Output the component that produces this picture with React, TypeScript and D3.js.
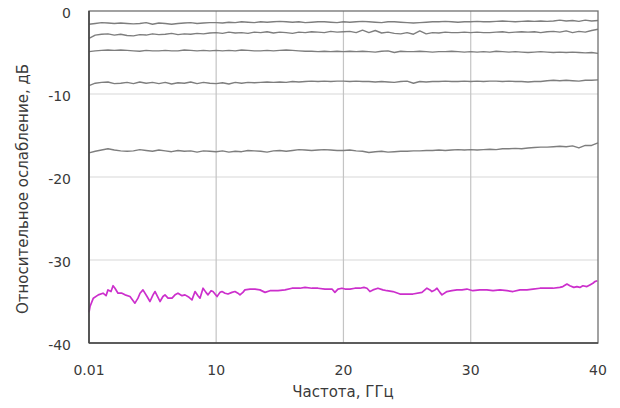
import React from "react";
import * as d3 from "d3";

const xTicks = [0.01, 10, 20, 30, 40];
const xTickLabels = ["0.01", "10", "20", "30", "40"];
const yTicks = [0, -10, -20, -30, -40];
const yTickLabels = ["0", "-10", "-20", "-30", "-40"];

const freqGrid = [
  0.01, 0.5, 1, 1.5, 2, 2.5, 3, 3.5, 4, 4.5, 5, 5.5, 6, 6.5, 7, 7.5, 8, 8.5, 9, 9.5,
  10, 10.5, 11, 11.5, 12, 12.5, 13, 13.5, 14, 14.5, 15, 15.5, 16, 16.5, 17, 17.5, 18, 18.5, 19, 19.5,
  20, 20.5, 21, 21.5, 22, 22.5, 23, 23.5, 24, 24.5, 25, 25.5, 26, 26.5, 27, 27.5, 28, 28.5, 29, 29.5,
  30, 30.5, 31, 31.5, 32, 32.5, 33, 33.5, 34, 34.5, 35, 35.5, 36, 36.5, 37, 37.5, 38, 38.5, 39, 39.5,
  40,
];

const att1 = [
  -1.6, -1.5, -1.4, -1.45, -1.5, -1.45, -1.5, -1.55, -1.5, -1.4, -1.6, -1.45, -1.5, -1.6, -1.5, -1.45, -1.4, -1.5, -1.45, -1.4,
  -1.4, -1.45, -1.35, -1.4, -1.3, -1.35, -1.4, -1.3, -1.35, -1.3, -1.25, -1.3, -1.35, -1.3, -1.4, -1.35, -1.3, -1.3, -1.35, -1.4,
  -1.3, -1.35, -1.3, -1.25, -1.3, -1.35, -1.4, -1.3, -1.3, -1.35, -1.4, -1.45, -1.4, -1.35, -1.3, -1.3, -1.25, -1.3, -1.35, -1.3,
  -1.3, -1.25, -1.3, -1.3, -1.25, -1.2, -1.25, -1.3, -1.25, -1.2, -1.25, -1.2, -1.25, -1.2, -1.1, -1.2, -1.15, -1.25, -1.1, -1.2,
  -1.15,
];

const att2 = [
  -3.3, -2.9, -2.8, -2.75, -2.9, -2.8, -2.95, -3.0, -2.85, -2.9, -2.75, -2.85, -2.8, -2.7, -2.85, -2.75, -2.8, -2.7, -2.75, -2.65,
  -2.6, -2.7, -2.55, -2.65, -2.6, -2.7, -2.55, -2.6, -2.5, -2.65, -2.55, -2.6, -2.7, -2.55, -2.6, -2.5, -2.55, -2.6, -2.45, -2.55,
  -2.5, -2.45, -2.6, -2.3, -2.6, -2.35, -2.65, -2.55, -2.7, -2.75, -2.6, -2.8, -2.4, -2.75, -2.6, -2.65, -2.55, -2.6, -2.6, -2.55,
  -2.6, -2.55, -2.6, -2.6, -2.55, -2.5, -2.6, -2.55, -2.5, -2.55, -2.5, -2.6, -2.5, -2.45, -2.55, -2.4, -2.6, -2.45, -2.55, -2.35,
  -2.2,
];

const att3 = [
  -4.9, -4.8, -4.75, -4.7, -4.75, -4.7, -4.75, -4.8, -4.85, -4.75, -4.8, -4.8, -4.75, -4.8, -4.8, -4.7, -4.75, -4.8, -4.75, -4.8,
  -4.75, -4.8, -4.75, -4.8, -4.7, -4.75, -4.8, -4.8, -4.75, -4.8, -4.75, -4.7, -4.75, -4.8, -4.85, -4.85, -4.9, -4.85, -4.9, -4.85,
  -4.9, -4.85, -4.9, -4.85, -4.9, -4.95, -4.85, -4.8, -5.0, -4.85, -4.9, -4.9, -4.85, -4.9, -4.95, -4.9, -4.9, -4.85, -4.9, -4.95,
  -4.9, -4.95, -4.9, -4.95, -4.85, -4.9, -4.95, -4.9, -4.95, -5.0, -4.95, -4.9, -4.95, -5.0, -4.95, -5.0, -4.95, -5.0, -5.05, -5.0,
  -5.1,
];

const att4 = [
  -9.0, -8.7, -8.6, -8.55, -8.75, -8.7, -8.6, -8.75, -8.55, -8.7, -8.6, -8.75, -8.6, -8.8, -8.65, -8.7, -8.55, -8.75, -8.6, -8.7,
  -8.75, -8.65, -8.8, -8.6, -8.7, -8.6, -8.65, -8.6, -8.55, -8.6, -8.55, -8.6, -8.5, -8.55, -8.5, -8.45, -8.5, -8.45, -8.5, -8.45,
  -8.45, -8.5, -8.45, -8.5, -8.5, -8.55, -8.5, -8.55, -8.6, -8.5, -8.45, -8.7, -8.5, -8.55, -8.5, -8.5, -8.45, -8.5, -8.5, -8.45,
  -8.5, -8.45, -8.5, -8.45, -8.45, -8.5, -8.45, -8.5, -8.5, -8.55, -8.5, -8.5, -8.4, -8.35, -8.4, -8.35, -8.4, -8.45, -8.35, -8.35,
  -8.3,
];

const att5 = [
  -17.1, -16.9, -16.75, -16.6, -16.75, -16.85, -16.9, -16.85, -16.7, -16.8, -16.9, -16.75, -16.85, -16.95, -16.8, -16.9, -16.85, -17.0, -16.85, -16.9,
  -16.95, -16.85, -17.0, -16.9, -16.95, -16.8, -16.85, -16.9, -17.0, -16.85, -16.8, -16.9, -16.8, -16.7, -16.75, -16.8, -16.75, -16.7, -16.75, -16.8,
  -16.8, -16.75, -16.85, -16.9, -17.05, -16.95, -16.9, -17.0, -16.95, -16.9, -16.9, -16.85, -16.85, -16.8, -16.8, -16.75, -16.8, -16.75, -16.7, -16.75,
  -16.7, -16.75, -16.7, -16.65, -16.7, -16.6, -16.6, -16.55, -16.6, -16.5, -16.45, -16.4, -16.4, -16.35, -16.3, -16.35, -16.25, -16.5, -16.2, -16.2,
  -15.9,
];

const magentaFreq = [
  0.01, 0.09, 0.35, 0.74, 1.11, 1.35, 1.5, 1.74, 1.9, 2.05, 2.29, 2.6, 2.84, 3.23, 3.62, 3.86, 4.02, 4.25, 4.57, 4.8,
  5.04, 5.2, 5.43, 5.59, 5.82, 5.98, 6.22, 6.53, 6.77, 7.0, 7.32, 7.55, 7.87, 8.1, 8.34, 8.57, 8.73, 8.97, 9.2, 9.36,
  9.6, 9.75, 10.07, 10.3, 10.46, 10.7, 10.93, 11.24, 11.48, 11.71, 11.87, 12.1, 12.26, 12.66, 13.05, 13.44, 13.84, 14.23, 14.86, 15.41,
  15.96, 16.58, 16.98, 17.53, 18.0, 18.55, 19.1, 19.33, 19.57, 19.88, 20.12, 20.51, 20.9, 21.3, 21.61, 21.85, 22.08, 22.32, 22.71, 23.1,
  23.42, 23.89, 24.44, 25.46, 26.17, 26.56, 26.8, 26.95, 27.19, 27.35, 27.58, 27.74, 28.13, 28.52, 28.92, 29.31, 29.7, 30.17, 30.72, 31.27,
  31.75, 32.3, 32.85, 33.32, 33.87, 34.42, 34.89, 35.44, 35.99, 36.46, 37.0, 37.24, 37.56, 37.79, 38.1, 38.34, 38.58, 38.81, 39.13, 39.36,
  39.6, 39.75, 39.95,
];

const magentaAtt = [
  -36.3, -35.6, -34.6, -34.2, -34.0, -34.3, -33.6, -33.8, -33.1, -33.4, -34.0, -34.0, -34.2, -34.4, -35.2, -34.6, -34.0, -33.6, -34.4, -35.0,
  -34.2, -33.8, -34.5, -35.0, -34.4, -34.2, -34.6, -34.6, -34.2, -34.0, -34.3, -34.2, -34.5, -34.8, -33.8, -34.3, -34.6, -33.4, -33.9, -34.2,
  -33.7, -33.8, -34.4, -33.9, -33.8, -34.0, -34.1, -33.9, -33.8, -34.0, -34.2, -33.9, -33.6, -33.5, -33.5, -33.6, -33.9, -33.7, -33.7, -33.6,
  -33.4, -33.4, -33.3, -33.4, -33.4, -33.5, -33.5, -33.9, -33.5, -33.4, -33.5, -33.5, -33.4, -33.4, -33.3, -33.4, -33.8, -33.6, -33.4, -33.6,
  -33.7, -33.8, -34.1, -34.1, -33.9, -33.4, -33.6, -33.8, -33.6, -33.4, -33.9, -34.2, -33.8, -33.7, -33.6, -33.6, -33.5, -33.7, -33.6, -33.6,
  -33.7, -33.6, -33.7, -33.8, -33.6, -33.6, -33.5, -33.4, -33.4, -33.4, -33.3, -33.2, -32.9, -33.1, -33.3, -33.2, -33.3, -33.1, -33.2, -33.0,
  -32.8, -32.6, -32.5,
];

const graySeries = [att1, att2, att3, att4, att5];

const W = 620;
const H = 408;
const L = 89;
const R = 598;
const T = 11;
const B = 343;
const FONT = "'DejaVu Sans', Verdana, sans-serif";

export default function App() {
  const x = d3.scaleLinear().domain([0.01, 40]).range([L, R]);
  const y = d3.scaleLinear().domain([-40, 0]).range([B, T]);
  const line = d3
    .line<[number, number]>()
    .x((d) => x(d[0]))
    .y((d) => y(d[1]));

  return (
    <svg
      width={W}
      height={H}
      style={{ position: "absolute", left: 0, top: 0, background: "#fff" }}
      fontFamily={FONT}
    >
      <rect x={0} y={0} width={W} height={H} fill="#fff" />
      {yTicks.slice(1, 4).map((t) => (
        <line key={"h" + t} x1={L} x2={R} y1={y(t)} y2={y(t)} stroke="#d8d8d8" strokeWidth={1.2} />
      ))}
      {xTicks.slice(1, 4).map((t) => (
        <line key={"v" + t} x1={x(t)} x2={x(t)} y1={T} y2={B} stroke="#c4c4c4" strokeWidth={1.2} />
      ))}
      {graySeries.map((s, i) => (
        <path
          key={"g" + i}
          d={line(freqGrid.map((f, j) => [f, s[j]] as [number, number])) || ""}
          fill="none"
          stroke="#7e7e7e"
          strokeWidth={1.4}
          strokeLinejoin="round"
        />
      ))}
      <path
        d={line(magentaFreq.map((f, j) => [f, magentaAtt[j]] as [number, number])) || ""}
        fill="none"
        stroke="#cc2fcc"
        strokeWidth={1.7}
        strokeLinejoin="round"
      />
      <rect x={L} y={T} width={R - L} height={B - T} fill="none" stroke="#707070" strokeWidth={1.3} />
      <line x1={L} x2={L} y1={T} y2={B} stroke="#444" strokeWidth={1.6} />
      <line x1={L} x2={R} y1={B} y2={B} stroke="#444" strokeWidth={1.6} />
      {yTicks.map((t, i) => (
        <text key={"yl" + t} x={71} y={y(t) + 7} textAnchor="end" fontSize={14} fill="#3a3a3a">
          {yTickLabels[i]}
        </text>
      ))}
      {xTicks.map((t, i) => (
        <text key={"xl" + t} x={x(t)} y={375} textAnchor="middle" fontSize={14} fill="#3a3a3a">
          {xTickLabels[i]}
        </text>
      ))}
      <text x={343} y={397} textAnchor="middle" fontSize={15} fill="#3a3a3a">
        Частота, ГГц
      </text>
      <text
        transform={`translate(28, 189) rotate(-90)`}
        textAnchor="middle"
        fontSize={15}
        fill="#3a3a3a"
      >
        Относительное ослабление, дБ
      </text>
    </svg>
  );
}
